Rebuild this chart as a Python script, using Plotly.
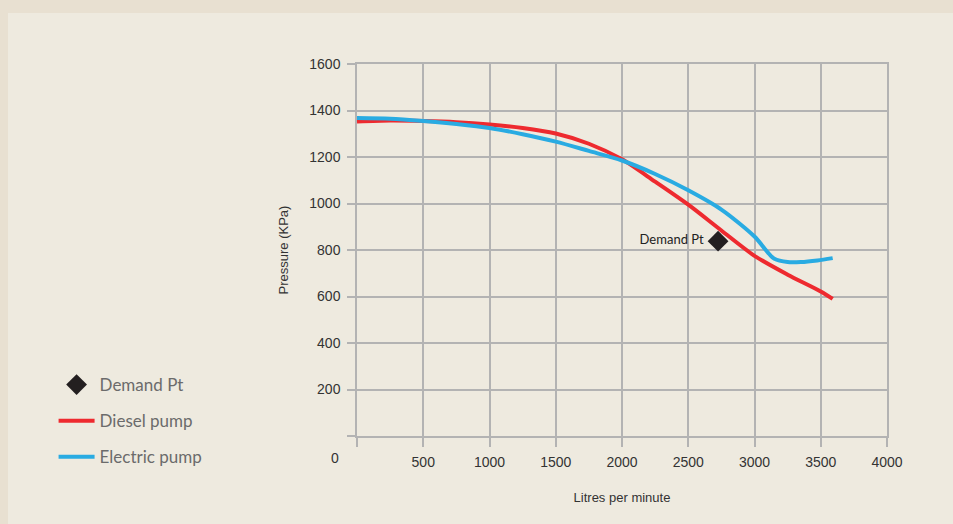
import plotly.graph_objects as go

# Data
diesel_x = [0, 250, 500, 750, 1000, 1250, 1500, 1750, 2000, 2250, 2500, 2750, 3000, 3250, 3500, 3590]
diesel_y = [1353, 1357, 1355, 1350, 1340, 1325, 1301, 1257, 1190, 1094, 995, 884, 775, 694, 622, 590]

electric_x = [0, 250, 500, 750, 1000, 1250, 1500, 1750, 2000, 2250, 2500, 2750, 3000, 3100, 3150, 3250, 3350, 3475, 3590]
electric_y = [1368, 1365, 1355, 1342, 1325, 1298, 1266, 1226, 1185, 1127, 1057, 974, 858, 790, 762, 748, 748, 755, 765]

demand_x = [2725]
demand_y = [838]

x_ticks = [0, 500, 1000, 1500, 2000, 2500, 3000, 3500, 4000]
y_ticks = [0, 200, 400, 600, 800, 1000, 1200, 1400, 1600]

GRID = "#b3b3b3"
TXT = "#333333"

fig = go.Figure()
fig.add_trace(go.Scatter(
    x=demand_x, y=demand_y, mode="markers+text", name="Demand Pt",
    text=["Demand Pt "], textposition="middle left",
    textfont=dict(family="Lato", size=13, color="#222222"),
    marker=dict(symbol="diamond", size=16, color="#231f20"),
    legendgroup="a", legendrank=1,
))
fig.add_trace(go.Scatter(
    x=diesel_x, y=diesel_y, mode="lines", name="Diesel pump",
    line=dict(color="#ee2a2f", width=4, shape="spline", smoothing=0.8),
    legendgroup="b", legendrank=2,
))
fig.add_trace(go.Scatter(
    x=electric_x, y=electric_y, mode="lines", name="Electric pump",
    line=dict(color="#29abe2", width=4, shape="spline", smoothing=0.8),
    legendgroup="c", legendrank=3,
))

fig.update_layout(
    width=953, height=524,
    margin=dict(l=357, r=66, t=64, b=88),
    paper_bgcolor="#eeeadf",
    plot_bgcolor="#eeeadf",
    font=dict(family="Liberation Sans", size=14, color=TXT),
    hovermode=False,
    legend=dict(
        x=-0.5725, y=0.1855, xanchor="left", yanchor="top",
        font=dict(family="Lato", size=17, color="#6b6b6b"),
        bgcolor="rgba(0,0,0,0)", tracegroupgap=11, itemwidth=36,
    ),
    shapes=[
        dict(type="rect", xref="paper", yref="paper",
             x0=-357/530, x1=1+66/530, y0=1+51/372, y1=1+64/372,
             fillcolor="#e8e0d1", line=dict(width=0), layer="below"),
        dict(type="rect", xref="paper", yref="paper",
             x0=-357/530, x1=-349/530, y0=-88/372, y1=1+64/372,
             fillcolor="#e8e0d1", line=dict(width=0), layer="below"),
    ],
    annotations=[
        dict(text="0", x=-22/530, y=-22/372, xref="paper", yref="paper",
             showarrow=False, xanchor="center", yanchor="middle",
             font=dict(family="Liberation Sans", size=14, color=TXT)),
    ],
)

fig.update_xaxes(
    range=[0, 4000], tickvals=x_ticks,
    ticktext=["" if v == 0 else str(v) for v in x_ticks],
    showgrid=True, gridcolor=GRID, gridwidth=1.5,
    showline=True, mirror=True, linecolor=GRID, linewidth=1.5,
    zeroline=False,
    ticks="outside", ticklen=9, tickcolor=GRID, tickwidth=1.5,
    ticklabelstandoff=3,
    title=dict(text="Litres per minute", standoff=24,
               font=dict(family="Liberation Sans", size=13, color=TXT)),
)
fig.update_yaxes(
    range=[0, 1600], tickvals=y_ticks,
    ticktext=["" if v == 0 else str(v) for v in y_ticks],
    showgrid=True, gridcolor=GRID, gridwidth=1.5,
    showline=True, mirror=True, linecolor=GRID, linewidth=1.5,
    zeroline=False,
    ticks="outside", ticklen=8, tickcolor=GRID, tickwidth=1.5,
    ticklabelstandoff=4,
    title=dict(text="Pressure (KPa)", standoff=18,
               font=dict(family="Liberation Sans", size=13, color=TXT)),
)

fig.write_html(
    "out.html",
    config={"displayModeBar": False},
    post_script="document.body.style.margin='0';document.body.style.background='#e8e0d1';",
)
